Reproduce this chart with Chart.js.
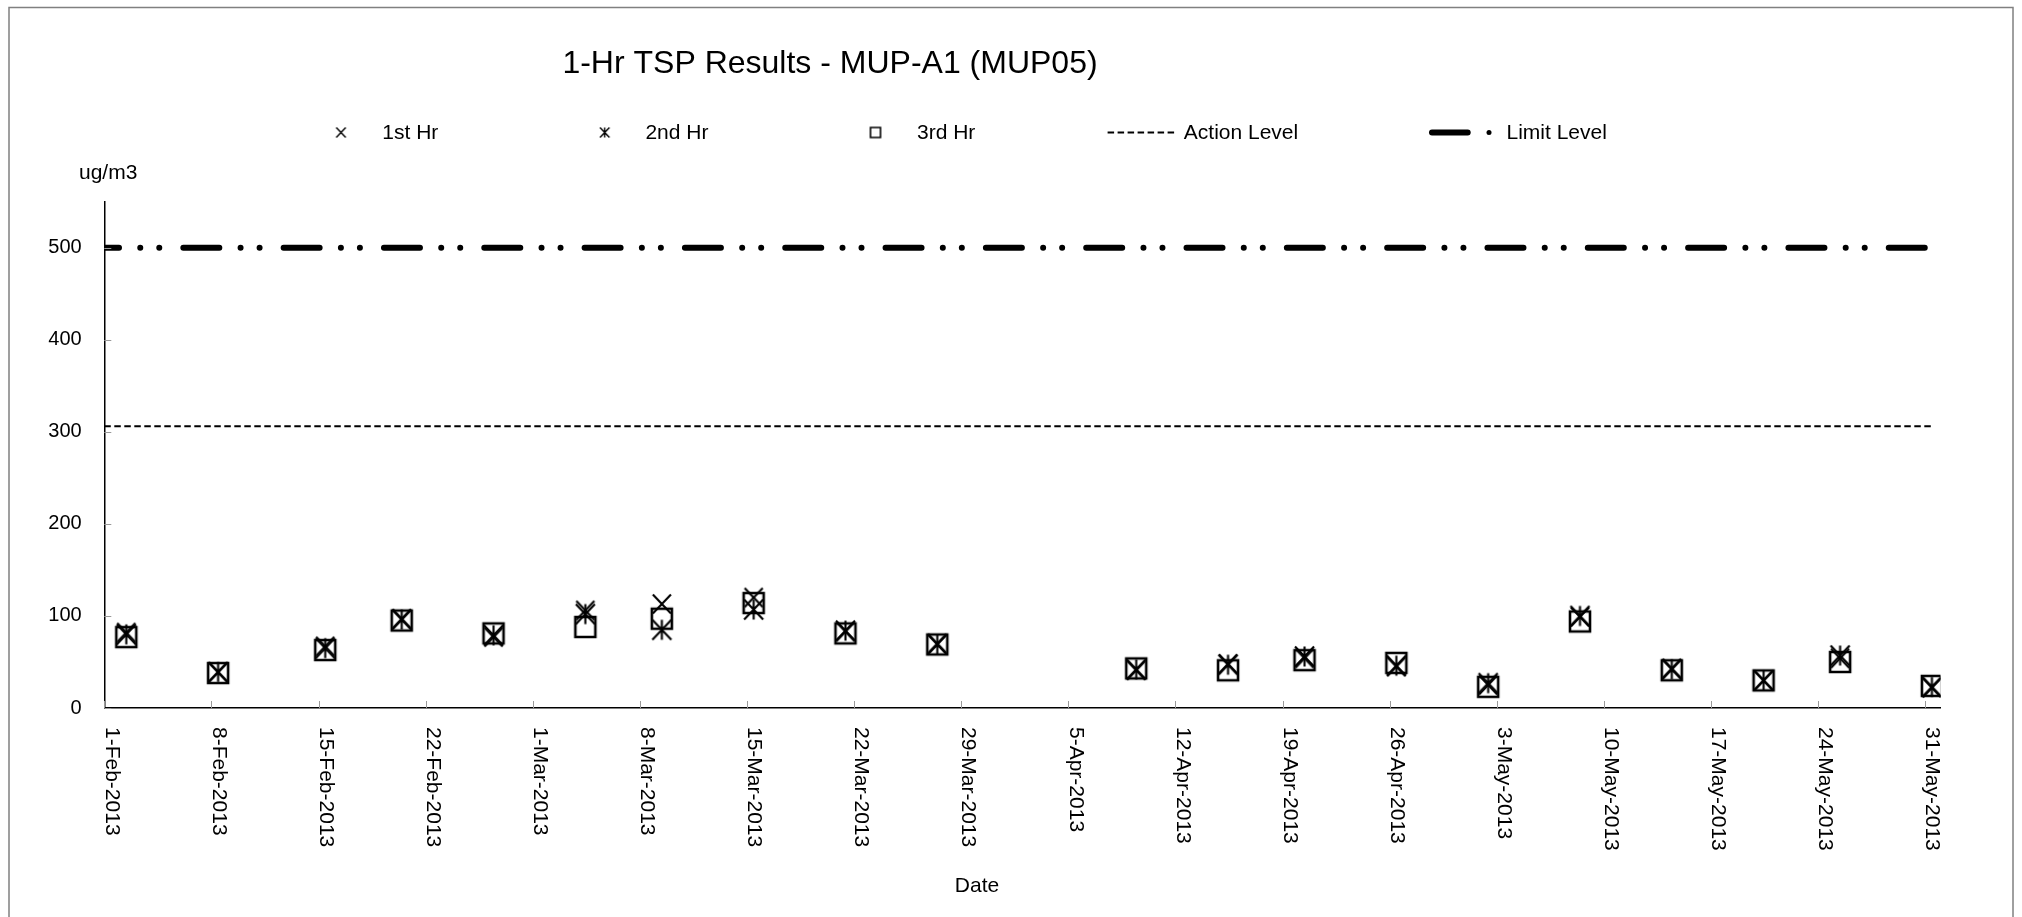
<!DOCTYPE html>
<html>
<head>
<meta charset="utf-8">
<title>1-Hr TSP Results - MUP-A1 (MUP05)</title>
<script src="https://cdn.jsdelivr.net/npm/chart.js@4/dist/chart.umd.min.js"></script>
<style>
  html, body { margin: 0; padding: 0; background: #fff; }
  #wrap { width: 2022px; height: 917px; }
</style>
</head>
<body>
<div id="wrap"><canvas id="tspChart" width="2022" height="917"></canvas></div>
<script>
// monitoring days, Feb - May 2013 (samples taken mid morning)
const sampleDates = [
  "2013-02-02", "2013-02-08", "2013-02-15", "2013-02-20", "2013-02-26",
  "2013-03-04", "2013-03-09", "2013-03-15", "2013-03-21", "2013-03-27",
  "2013-04-09", "2013-04-15", "2013-04-20", "2013-04-26", "2013-05-02",
  "2013-05-08", "2013-05-14", "2013-05-20", "2013-05-25", "2013-05-31"
];
const sampleTime = "10:30";

// 1-hr TSP, ug/m3
const hr1 = [82, 39, 67, 97, 77, 106, 113, 120, 83, 70, 41, 48, 54, 45, 25, 99, 43, 30, 54, 22];
const hr2 = [80, 39, 65, 96, 79, 102, 85, 107, 84, 69, 42, 47, 56, 46, 27, 100, 42, 30, 57, 23];
const hr3 = [77, 38, 63, 95, 81, 88, 97, 114, 81, 69, 43, 41, 52, 49, 23, 94, 41, 30, 50, 24];

const seriesNames = ["1st Hr", "2nd Hr", "3rd Hr"];
const levelNames = ["Action Level", "Limit Level"];
const actionLevel = 306;
const limitLevel = 500;

const axisStart = "2013-02-01";
const axisEnd = "2013-06-01";
const tickEveryDays = 7;
const yMax = 550;
const yStep = 100;
const months = ["Jan","Feb","Mar","Apr","May","Jun","Jul","Aug","Sep","Oct","Nov","Dec"];

const FONT = "'Liberation Sans', Arial, sans-serif";
const DAY = 86400000;
const t0 = Date.parse(axisStart + "T00:00:00Z");

function dayOf(dateStr, timeStr) {
  return (Date.parse(dateStr + "T" + (timeStr || "00:00") + ":00Z") - t0) / DAY;
}
function dayLabel(v) {
  const d = new Date(t0 + v * DAY);
  return d.getUTCDate() + "-" + months[d.getUTCMonth()] + "-" + d.getUTCFullYear();
}

// marker images (Excel style x, asterisk, square)
function makeMarker(kind, size, lw) {
  const c = document.createElement("canvas");
  c.width = c.height = Math.ceil(size + lw * 2 + 2);
  const g = c.getContext("2d");
  const m = c.width / 2, h = size / 2;
  g.strokeStyle = "#000";
  g.lineWidth = lw;
  g.beginPath();
  if (kind === "x" || kind === "star") {
    g.moveTo(m - h * 0.95, m - h); g.lineTo(m + h * 0.95, m + h);
    g.moveTo(m + h * 0.95, m - h); g.lineTo(m - h * 0.95, m + h);
  }
  if (kind === "star") {
    g.moveTo(m, m - h); g.lineTo(m, m + h);
  }
  if (kind === "square") g.rect(m - h, m - h, size, size);
  g.stroke();
  return c;
}
const markers = [makeMarker("x", 19, 2.1), makeMarker("star", 20, 2.1), makeMarker("square", 20, 2.6)];
const legendMarkers = [makeMarker("x", 10, 1.4), makeMarker("star", 10, 1.4), makeMarker("square", 10, 1.6)];

const xMax = dayOf(axisEnd);
const xLast = dayOf(sampleDates[sampleDates.length - 1], sampleTime);

function points(vals) {
  return sampleDates.map((d, i) => ({ x: dayOf(d, sampleTime), y: vals[i] }));
}

const limitDash = [36, 21.25, 0.01, 19, 0.01, 24.05];
const actionDash = [6.5, 3.5];

const decor = {
  id: "decor",
  beforeDraw(chart) {
    const ctx = chart.ctx;
    ctx.save();
    ctx.fillStyle = "#fff";
    ctx.fillRect(0, 0, chart.width, chart.height);
    ctx.strokeStyle = "#808080";
    ctx.lineWidth = 1.5;
    ctx.strokeRect(9, 7.5, 2004, 1000);
    ctx.restore();
  },
  afterDraw(chart) {
    const ctx = chart.ctx;
    const area = chart.chartArea;
    const xs = chart.scales.x, ys = chart.scales.y;
    ctx.save();

    // small grey tick marks inside the plot
    ctx.strokeStyle = "#999";
    ctx.lineWidth = 1;
    ctx.beginPath();
    ys.ticks.forEach(t => {
      const y = Math.round(ys.getPixelForValue(t.value)) + 0.5;
      ctx.moveTo(area.left, y); ctx.lineTo(area.left + 7, y);
    });
    xs.ticks.forEach(t => {
      const x = Math.round(xs.getPixelForValue(t.value)) + 0.5;
      ctx.moveTo(x, area.bottom); ctx.lineTo(x, area.bottom - 7);
    });
    ctx.stroke();

    ctx.fillStyle = "#000";

    // date labels, rotated to read downwards
    ctx.font = "21px " + FONT;
    ctx.textAlign = "left";
    ctx.textBaseline = "middle";
    xs.ticks.forEach(t => {
      const x = xs.getPixelForValue(t.value);
      ctx.save();
      ctx.translate(x + 7, area.bottom + 19);
      ctx.rotate(Math.PI / 2);
      ctx.fillText(dayLabel(t.value), 0, 0);
      ctx.restore();
    });

    // title
    ctx.textBaseline = "alphabetic";
    ctx.textAlign = "center";
    ctx.font = "32px " + FONT;
    ctx.fillText("1-Hr TSP Results - MUP-A1 (MUP05)", 830, 73);

    // axis titles
    ctx.font = "21px " + FONT;
    ctx.textAlign = "left";
    ctx.fillText("ug/m3", 79, 179);
    ctx.textAlign = "center";
    ctx.fillText("Date", 977, 892);

    // legend
    const ly = 132.5;
    ctx.textAlign = "left";
    const markerX = [341, 604.7, 875.5];
    const textX = [382.3, 645.4, 917];
    markers.forEach((m, i) => {
      const lm = legendMarkers[i];
      ctx.drawImage(lm, markerX[i] - lm.width / 2, ly - lm.height / 2);
      ctx.fillText(seriesNames[i], textX[i], 139);
    });

    ctx.strokeStyle = "#000";
    ctx.lineWidth = 2;
    ctx.setLineDash(actionDash);
    ctx.beginPath();
    ctx.moveTo(1107.6, ly); ctx.lineTo(1177.3, ly);
    ctx.stroke();
    ctx.setLineDash([]);
    ctx.fillText(levelNames[0], 1183.8, 139);

    ctx.lineWidth = 6;
    ctx.lineCap = "round";
    ctx.beginPath();
    ctx.moveTo(1432, ly); ctx.lineTo(1467.7, ly);
    ctx.stroke();
    ctx.lineWidth = 5;
    ctx.beginPath();
    ctx.moveTo(1489, ly); ctx.lineTo(1489.01, ly);
    ctx.stroke();
    ctx.fillText(levelNames[1], 1506.5, 139);

    ctx.restore();
  }
};

const ctx = document.getElementById("tspChart").getContext("2d");
const tspChart = new Chart(ctx, {
  type: "scatter",
  data: {
    datasets: [
      {
        label: seriesNames[0], data: points(hr1),
        pointStyle: markers[0], pointRadius: 10, pointHoverRadius: 10, showLine: false
      },
      {
        label: seriesNames[1], data: points(hr2),
        pointStyle: markers[1], pointRadius: 10, pointHoverRadius: 10, showLine: false
      },
      {
        label: seriesNames[2], data: points(hr3),
        pointStyle: markers[2], pointRadius: 10, pointHoverRadius: 10, showLine: false
      },
      {
        label: levelNames[0],
        data: [{ x: 0, y: actionLevel }, { x: xLast, y: actionLevel }],
        showLine: true, pointRadius: 0, borderColor: "#000", borderWidth: 2,
        borderDash: actionDash
      },
      {
        label: levelNames[1],
        data: [{ x: 0, y: limitLevel }, { x: xLast, y: limitLevel }],
        showLine: true, pointRadius: 0, borderColor: "#000", borderWidth: 6,
        borderCapStyle: "round", borderDash: limitDash, borderDashOffset: 21.3
      }
    ]
  },
  options: {
    responsive: false,
    animation: false,
    devicePixelRatio: 1,
    layout: { padding: { left: 48.3, right: 81.5, top: 201.7, bottom: 209 } },
    plugins: {
      legend: { display: false },
      title: { display: false },
      tooltip: { enabled: false }
    },
    scales: {
      x: {
        type: "linear",
        min: 0,
        max: xMax,
        grid: { display: false, drawTicks: false },
        border: { display: true, color: "#000", width: 1.5 },
        ticks: { display: false, stepSize: tickEveryDays, includeBounds: false, callback: v => dayLabel(v) },
        afterFit: s => { s.height = 0; }
      },
      y: {
        min: 0,
        max: yMax,
        grid: { display: false, drawTicks: false },
        border: { display: true, color: "#000", width: 1.5 },
        ticks: {
          stepSize: yStep, includeBounds: false, padding: 22.6,
          color: "#000", font: { family: FONT, size: 20 }
        },
        afterFit: s => { s.width = 56; }
      }
    }
  },
  plugins: [decor]
});
</script>
</body>
</html>
